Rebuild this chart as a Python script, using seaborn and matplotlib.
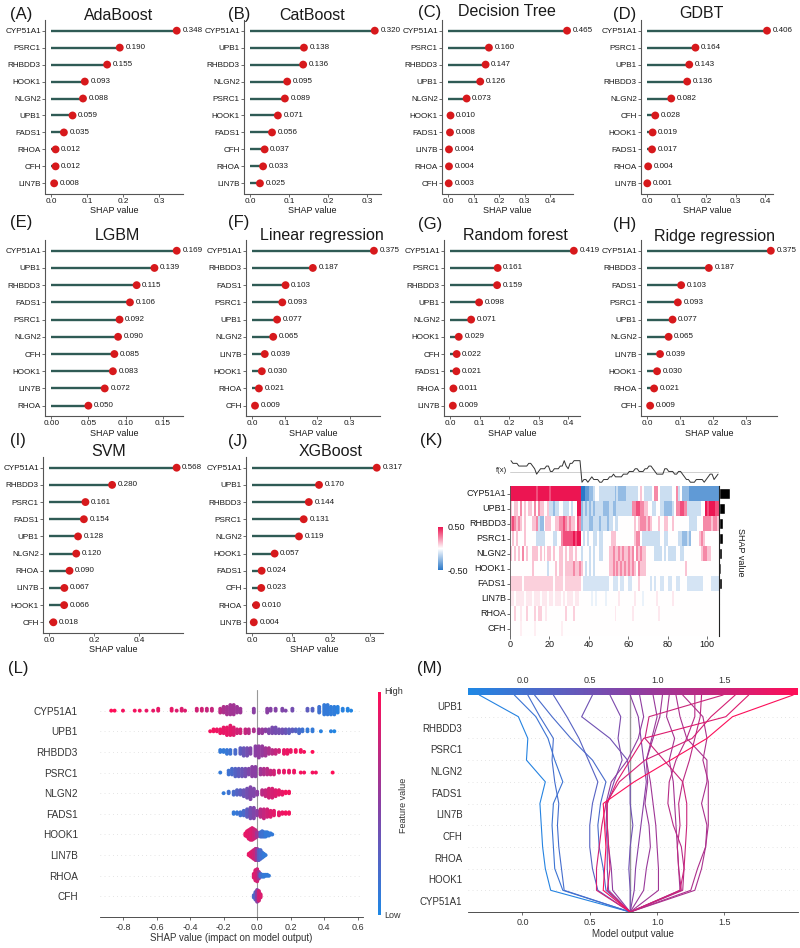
import numpy as np
import pandas as pd
import matplotlib
matplotlib.use("Agg")
import matplotlib.pyplot as plt
from matplotlib.colors import LinearSegmentedColormap, Normalize
from matplotlib.cm import ScalarMappable
import seaborn as sns

# ---------------- (A)-(J) mean |SHAP| per model ----------------
ada_genes = ["CYP51A1", "PSRC1", "RHBDD3", "HOOK1", "NLGN2", "UPB1", "FADS1", "RHOA", "CFH", "LIN7B"]
ada_vals = [0.348, 0.190, 0.155, 0.093, 0.088, 0.059, 0.035, 0.012, 0.012, 0.008]
cat_genes = ["CYP51A1", "UPB1", "RHBDD3", "NLGN2", "PSRC1", "HOOK1", "FADS1", "CFH", "RHOA", "LIN7B"]
cat_vals = [0.320, 0.138, 0.136, 0.095, 0.089, 0.071, 0.056, 0.037, 0.033, 0.025]
dt_genes = ["CYP51A1", "PSRC1", "RHBDD3", "UPB1", "NLGN2", "HOOK1", "FADS1", "LIN7B", "RHOA", "CFH"]
dt_vals = [0.465, 0.160, 0.147, 0.126, 0.073, 0.010, 0.008, 0.004, 0.004, 0.003]
gdbt_genes = ["CYP51A1", "PSRC1", "UPB1", "RHBDD3", "NLGN2", "CFH", "HOOK1", "FADS1", "RHOA", "LIN7B"]
gdbt_vals = [0.406, 0.164, 0.143, 0.136, 0.082, 0.028, 0.019, 0.017, 0.004, 0.001]
lgbm_genes = ["CYP51A1", "UPB1", "RHBDD3", "FADS1", "PSRC1", "NLGN2", "CFH", "HOOK1", "LIN7B", "RHOA"]
lgbm_vals = [0.169, 0.139, 0.115, 0.106, 0.092, 0.090, 0.085, 0.083, 0.072, 0.050]
lin_genes = ["CYP51A1", "RHBDD3", "FADS1", "PSRC1", "UPB1", "NLGN2", "LIN7B", "HOOK1", "RHOA", "CFH"]
lin_vals = [0.375, 0.187, 0.103, 0.093, 0.077, 0.065, 0.039, 0.030, 0.021, 0.009]
rf_genes = ["CYP51A1", "PSRC1", "RHBDD3", "UPB1", "NLGN2", "HOOK1", "CFH", "FADS1", "RHOA", "LIN7B"]
rf_vals = [0.419, 0.161, 0.159, 0.098, 0.071, 0.029, 0.022, 0.021, 0.011, 0.009]
ridge_genes = ["CYP51A1", "RHBDD3", "FADS1", "PSRC1", "UPB1", "NLGN2", "LIN7B", "HOOK1", "RHOA", "CFH"]
ridge_vals = [0.375, 0.187, 0.103, 0.093, 0.077, 0.065, 0.039, 0.030, 0.021, 0.009]
svm_genes = ["CYP51A1", "RHBDD3", "PSRC1", "FADS1", "UPB1", "NLGN2", "RHOA", "LIN7B", "HOOK1", "CFH"]
svm_vals = [0.568, 0.280, 0.161, 0.154, 0.128, 0.120, 0.090, 0.067, 0.066, 0.018]
xgb_genes = ["CYP51A1", "UPB1", "RHBDD3", "PSRC1", "NLGN2", "HOOK1", "FADS1", "CFH", "RHOA", "LIN7B"]
xgb_vals = [0.317, 0.170, 0.144, 0.131, 0.119, 0.057, 0.024, 0.023, 0.010, 0.004]

# ---------------- (K) SHAP heatmap ----------------
# one digit per instance: 0 = -0.5 ... 4 = 0 ... 8 = +0.5 (times the row scale)
heat_genes = ["CYP51A1", "UPB1", "RHBDD3", "PSRC1", "NLGN2", "HOOK1", "FADS1", "LIN7B", "RHOA", "CFH"]
heat_rows = [
    "8888888888 8887888888 7888888888 8888880011 2234433333 3332322223 3333345433 3346643333 3344634222 2111111111 111111",
    "5455464545 5464655445 3323344333 4344882323 2323333222 3322333333 3366776655 4433443322 2234667766 3333333448 788877",
    "6765654544 4556322455 5445566765 6554762333 2233323332 3343344444 4445456665 6544454455 4454444444 4333344466 665665",
    "4545444544 4443333344 4433446777 7787884343 4433433444 4555444444 4445664333 3333334433 4444433222 3244445654 444444",
    "5454546454 4555454545 5454455454 5545443444 3434433444 5565565655 6564656554 4443333434 3333443344 4444444566 554444",
    "4444444444 4544444443 4445455455 5565565434 3434444444 5565656565 6565465554 4444444444 4444444445 4444444444 444444",
    "5555554555 5555555555 5545555455 5555554333 3333333333 4433343344 3344454444 4343443344 3344334444 3333333344 443333",
    "5545555455 5455545554 5545554545 5545544444 4343444434 4444454444 4445444344 4444544444 4454444444 4444444444 444444",
    "4464454464 4464664454 4444444464 4464444444 4444444444 4445444444 4454444444 4444454444 4444444444 4444444444 444444",
    "4444454444 4454444444 4444445444 4444444444 4444444444 4444444444 4444444444 4444444444 4444444444 4444444444 444444",
]
heat_scale = [1, 1, 1, 1, 1, 1, 0.8, 0.4, 0.4, 0.3]
fx_levels = "9888777778 8764566677 5566677976 8899991221 2322211222 3343333444 5556655566 7765444466 5554455432 2111222212 344234"

# ---------------- (L) beeswarm: (SHAP value, count, feature value 0-1) ----------------
bee_genes = ["CYP51A1", "UPB1", "RHBDD3", "PSRC1", "NLGN2", "FADS1", "HOOK1", "LIN7B", "RHOA", "CFH"]
swarm_cyp51a1 = [(-0.87, 1, 1.0), (-0.85, 1, 1.0), (-0.80, 1, .95), (-0.73, 1, .95), (-0.70, 1, .95), (-0.66, 1, .9),
                 (-0.62, 1, .9), (-0.59, 2, .9), (-0.51, 2, .9), (-0.48, 1, .85), (-0.45, 2, .85), (-0.43, 1, .85),
                 (-0.36, 2, .8), (-0.33, 2, .8), (-0.30, 2, .75), (-0.27, 2, .75), (-0.22, 3, .7), (-0.20, 4, .65),
                 (-0.18, 5, .62), (-0.16, 6, .6), (-0.14, 6, .6), (-0.12, 4, .58), (-0.10, 3, .58), (-0.02, 3, .5),
                 (0.06, 3, .5), (0.08, 2, .48), (0.11, 2, .48), (0.15, 2, .45), (0.17, 1, .45), (0.21, 2, .4),
                 (0.30, 2, .3), (0.33, 2, .25), (0.37, 4, .15), (0.40, 6, .1), (0.42, 6, .1), (0.44, 5, .08),
                 (0.46, 5, .08), (0.48, 4, .05), (0.51, 2, .05), (0.54, 2, .03), (0.56, 1, .02)]
swarm_upb1 = [(-0.28, 1, .95), (-0.26, 2, .95), (-0.24, 2, .92), (-0.22, 3, .92), (-0.20, 4, .9), (-0.18, 5, .9),
              (-0.16, 6, .88), (-0.14, 5, .85), (-0.12, 3, .8), (-0.10, 3, .8), (-0.07, 3, .75), (-0.05, 3, .7),
              (-0.02, 2, .65), (0.01, 3, .55), (0.03, 3, .55), (0.05, 2, .5), (0.07, 3, .45), (0.09, 4, .42),
              (0.11, 4, .4), (0.13, 3, .4), (0.15, 3, .38), (0.17, 3, .35), (0.19, 3, .3), (0.21, 2, .3),
              (0.23, 2, .25), (0.25, 3, .2), (0.27, 2, .15), (0.30, 2, .1), (0.33, 2, .1), (0.38, 1, .05),
              (0.44, 1, .05), (0.46, 1, .02)]
swarm_rhbdd3 = [(-0.22, 2, .1), (-0.20, 2, .1), (-0.18, 3, .12), (-0.16, 3, .15), (-0.13, 3, .2), (-0.10, 4, .3),
                (-0.08, 5, .35), (-0.06, 5, .4), (-0.04, 4, .45), (-0.01, 6, .5), (0.01, 7, .52), (0.03, 6, .55),
                (0.05, 5, .6), (0.07, 4, .65), (0.09, 3, .7), (0.11, 3, .75), (0.13, 2, .8), (0.16, 3, .9),
                (0.18, 3, .92), (0.20, 2, .92), (0.23, 2, .95), (0.26, 2, .95), (0.28, 1, .95), (0.33, 1, 1.0)]
swarm_psrc1 = [(-0.22, 1, .1), (-0.17, 3, .15), (-0.15, 4, .2), (-0.13, 5, .25), (-0.11, 5, .3), (-0.09, 5, .35),
               (-0.07, 5, .4), (-0.05, 4, .45), (-0.03, 6, .5), (-0.01, 6, .5), (0.02, 4, .6), (0.04, 4, .65),
               (0.06, 4, .7), (0.08, 3, .75), (0.10, 3, .8), (0.13, 2, .85), (0.16, 2, .9), (0.19, 2, .9),
               (0.22, 2, .92), (0.26, 1, .95), (0.28, 1, .95), (0.33, 1, .95), (0.35, 1, .95), (0.45, 1, 1.0)]
swarm_nlgn2 = [(-0.20, 1, .1), (-0.17, 2, .15), (-0.14, 3, .2), (-0.12, 4, .25), (-0.10, 4, .3), (-0.08, 5, .35),
               (-0.06, 7, .4), (-0.04, 9, .45), (-0.02, 6, .45), (0.00, 3, .5), (0.03, 4, .7), (0.05, 5, .75),
               (0.07, 7, .8), (0.09, 7, .82), (0.11, 5, .85), (0.13, 4, .88), (0.15, 3, .9), (0.17, 2, .95),
               (0.19, 2, .95)]
swarm_fads1 = [(-0.14, 2, .1), (-0.12, 2, .12), (-0.10, 3, .15), (-0.08, 4, .2), (-0.06, 6, .3), (-0.04, 8, .4),
               (-0.02, 8, .45), (0.00, 4, .5), (0.02, 6, .7), (0.04, 7, .75), (0.06, 6, .8), (0.08, 5, .85),
               (0.10, 4, .88), (0.13, 3, .9), (0.15, 2, .92), (0.17, 2, .95), (0.19, 2, .95)]
swarm_hook1 = [(-0.07, 3, .9), (-0.06, 6, .9), (-0.05, 9, .88), (-0.04, 11, .85), (-0.03, 12, .85), (-0.02, 10, .8),
               (-0.01, 8, .75), (0.00, 5, .6), (0.02, 5, .2), (0.03, 6, .15), (0.04, 5, .15), (0.05, 5, .1),
               (0.06, 4, .1), (0.07, 3, .1), (0.08, 2, .1), (0.09, 1, .1)]
swarm_lin7b = [(-0.05, 2, .9), (-0.04, 4, .9), (-0.03, 6, .85), (-0.02, 8, .8), (-0.01, 10, .75), (0.00, 10, .55),
               (0.01, 9, .3), (0.02, 8, .2), (0.03, 5, .15), (0.04, 3, .1), (0.05, 1, .1)]
swarm_rhoa = [(-0.02, 5, .85), (-0.01, 12, .85), (0.00, 14, .8), (0.01, 8, .6), (0.02, 4, .2), (0.03, 3, .15),
              (0.04, 3, .1), (0.05, 2, .1), (0.06, 2, .1), (0.07, 1, .1)]
swarm_cfh = [(-0.02, 3, .2), (-0.01, 8, .25), (0.00, 12, .5), (0.01, 10, .8), (0.02, 4, .85)]

# ---------------- (M) decision plot: model output after each feature ----------------
decision_genes = ["CYP51A1", "HOOK1", "RHOA", "CFH", "LIN7B", "FADS1", "NLGN2", "PSRC1", "RHBDD3", "UPB1"]
base_value = 0.80
decision_lines = [
    [0.21, 0.17, 0.15, 0.14, 0.13, 0.17, 0.03, 0.04, -0.03, -0.32],
    [0.30, 0.24, 0.23, 0.22, 0.23, 0.30, 0.24, 0.19, 0.10, -0.06],
    [0.31, 0.29, 0.27, 0.26, 0.27, 0.24, 0.22, 0.23, 0.13, 0.04],
    [0.62, 0.60, 0.57, 0.56, 0.58, 0.62, 0.52, 0.36, 0.22, 0.09],
    [0.56, 0.52, 0.50, 0.50, 0.52, 0.56, 0.49, 0.42, 0.33, 0.23],
    [0.80, 0.79, 0.80, 0.82, 0.80, 0.80, 0.78, 0.65, 0.44, 0.52],
    [0.64, 0.63, 0.63, 0.62, 0.63, 0.68, 0.74, 0.71, 0.73, 0.65],
    [0.83, 0.84, 0.86, 0.88, 0.90, 0.92, 0.90, 0.88, 0.86, 0.80],
    [0.67, 0.66, 0.64, 0.63, 0.62, 0.66, 0.78, 0.86, 0.90, 0.87],
    [0.90, 0.92, 0.95, 0.94, 0.91, 0.93, 0.92, 0.96, 1.00, 0.97],
    [1.01, 1.01, 1.00, 0.99, 0.97, 0.95, 0.92, 0.97, 1.02, 1.04],
    [1.17, 1.16, 1.15, 1.14, 1.13, 1.12, 1.09, 1.13, 1.07, 1.09],
    [1.28, 1.33, 1.36, 1.37, 1.33, 1.37, 1.37, 1.22, 1.17, 1.14],
    [1.25, 1.30, 1.36, 1.38, 1.38, 1.38, 1.34, 1.37, 1.34, 1.19],
    [1.19, 1.20, 1.18, 1.12, 1.08, 1.09, 1.14, 1.22, 1.28, 1.28],
    [1.18, 1.16, 1.15, 1.17, 1.16, 1.19, 1.24, 1.28, 1.32, 1.33],
    [1.17, 1.20, 1.21, 1.22, 1.22, 1.19, 1.05, 0.91, 0.94, 1.49],
    [0.55, 0.55, 0.57, 0.59, 0.62, 0.72, 0.91, 1.26, 1.40, 1.58],
    [0.63, 0.65, 0.64, 0.63, 0.63, 0.70, 0.80, 0.90, 1.51, 1.68],
    [0.60, 0.61, 0.62, 0.61, 0.60, 0.83, 1.10, 1.37, 1.56, 2.01],
]

# ---------------- style ----------------
sns.set_theme(style="white")
plt.rcParams["font.family"] = ["Liberation Sans", "DejaVu Sans"]

W, H = 800, 948
fig = plt.figure(figsize=(8, 9.48), dpi=100)

STEM = "#2f5b55"
DOT = "#d7191c"
red_blue = LinearSegmentedColormap.from_list("rb", ["#1E88E5", "#8a3fa3", "#FF0D57"])
red_white_blue = LinearSegmentedColormap.from_list("rwb", ["#2b78c8", "#ffffff", "#ec1552"])


def box(l, t, r, b):
    return fig.add_axes([l / W, 1 - b / H, (r - l) / W, (b - t) / H])


def ftext(x, y, s, **kw):
    fig.text(x / W, 1 - y / H, s, **kw)


def lollipop(ax, genes, vals):
    df = pd.DataFrame({"gene": genes, "shap": vals, "pos": np.arange(len(genes))})
    ax.hlines(df["pos"], 0, df["shap"], color=STEM, lw=1.7, zorder=1)
    sns.scatterplot(data=df, x="shap", y="pos", color=DOT, s=32, edgecolor="none",
                    zorder=2, legend=False, ax=ax, clip_on=False)
    for p, v in zip(df["pos"], df["shap"]):
        ax.annotate(f"{v:.3f}", (v, p), xytext=(4, 0), textcoords="offset points",
                    va="center", ha="left", fontsize=5.8, color="#1a1a1a", annotation_clip=False)
    m = max(vals)
    lo, hi = -0.05 * m, 1.05 * m
    ax.set_xlim(lo, hi)
    ax.set_ylim(len(genes) - 0.4, -0.6)
    raw = (hi - lo) / 6
    step = [s for s in (0.05, 0.1, 0.2, 0.5) if s >= raw][0]
    ticks = np.arange(0, hi, step)
    ax.set_xticks(ticks)
    dec = 2 if step < 0.1 else 1
    ax.set_xticklabels([f"{t:.{dec}f}" for t in ticks])
    ax.set_yticks(df["pos"])
    ax.set_yticklabels(genes)
    ax.set_xlabel("SHAP value", fontsize=6.5, labelpad=1, color="#1a1a1a")
    ax.set_ylabel("")
    for s in ("top", "right"):
        ax.spines[s].set_visible(False)
    for s in ("left", "bottom"):
        ax.spines[s].set_color("#555555")
        ax.spines[s].set_linewidth(0.8)
    ax.tick_params(axis="both", labelsize=5.9, length=2, width=0.6, colors="#555555",
                   labelcolor="#1a1a1a", pad=1, left=True, bottom=True)


panels = [
    ("(A)", "AdaBoost", ada_genes, ada_vals, (45, 20.5, 183, 193.5), (10, 14), (119, 15)),
    ("(B)", "CatBoost", cat_genes, cat_vals, (244, 20.5, 381, 193.5), (228, 14), (312, 15)),
    ("(C)", "Decision Tree", dt_genes, dt_vals, (442, 20.5, 573, 193.5), (418, 12), (507, 12)),
    ("(D)", "GDBT", gdbt_genes, gdbt_vals, (641, 20.5, 773, 193.5), (613, 14), (701, 14)),
    ("(E)", "LGBM", lgbm_genes, lgbm_vals, (45, 240.4, 183, 416), (10, 222), (117, 235.5)),
    ("(F)", "Linear regression", lin_genes, lin_vals, (246, 240.4, 380, 416), (228, 222), (322, 235.5)),
    ("(G)", "Random forest", rf_genes, rf_vals, (444, 240.4, 580, 416), (418, 224), (515, 235)),
    ("(H)", "Ridge regression", ridge_genes, ridge_vals, (641, 240.4, 777, 416), (613, 224), (715, 236)),
    ("(I)", "SVM", svm_genes, svm_vals, (43, 457.4, 183, 632.6), (10, 440), (109, 451.5)),
    ("(J)", "XGBoost", xgb_genes, xgb_vals, (246, 457.4, 383, 632.6), (228, 441), (331, 452)),
]

for letter, title, genes, vals, pos, lpos, tpos in panels:
    ax = box(*pos)
    lollipop(ax, genes, vals)
    ftext(lpos[0], lpos[1], letter, fontsize=12, va="center", ha="left", color="#1a1a1a")
    ftext(tpos[0], tpos[1], title, fontsize=11.5, va="center", ha="center", color="#1a1a1a")

# ---------------- (K) heatmap ----------------
digits = [np.array([int(c) for c in r.replace(" ", "")], float) for r in heat_rows]
heat = pd.DataFrame([(d - 4) / 8 * s for d, s in zip(digits, heat_scale)], index=heat_genes)
n_inst = heat.shape[1]

ax_h = box(510, 486, 719, 636)
cax_k = box(438, 527, 443, 570)
sns.heatmap(heat, ax=ax_h, cmap=red_white_blue, vmin=-0.5, vmax=0.5, cbar_ax=cax_k,
            xticklabels=False, yticklabels=True)
ax_h.set_yticks(np.arange(len(heat_genes)) + 0.5)
ax_h.set_yticklabels(heat_genes, rotation=0)
ax_h.set_xticks([0, 20, 40, 60, 80, 100])
ax_h.set_xticklabels(["0", "20", "40", "60", "80", "100"])
ax_h.tick_params(axis="both", labelsize=6.5, length=2, width=0.6, colors="#555555",
                 labelcolor="#1a1a1a", pad=1, left=True, bottom=True)
ax_h.spines["left"].set_visible(True)
ax_h.spines["left"].set_color("#555555")
ax_h.spines["left"].set_linewidth(0.6)
cb = ax_h.collections[0].colorbar
cb.set_ticks([0.5, -0.5])
cb.set_ticklabels(["0.50", "-0.50"])
cb.outline.set_visible(False)
cax_k.tick_params(labelsize=6.5, length=0, pad=3, labelcolor="#1a1a1a")

ax_f = box(510, 455, 719, 486)
fx = np.array([int(c) for c in fx_levels.replace(" ", "")], float)
sns.lineplot(x=np.arange(n_inst) + 0.5, y=fx, color="#333333", lw=0.7, ax=ax_f)
ax_f.axhline(fx.mean(), color="#c8c8c8", lw=0.6, zorder=0)
ax_f.set_xlim(0, n_inst)
ax_f.set_ylim(-0.4, 11.1)
ax_f.axis("off")
ftext(507, 471, "f(x)", fontsize=5.5, ha="right", va="center", color="#1a1a1a")

ax_b = box(719, 486, 736, 636)
mean_abs = heat.abs().mean(axis=1)
ax_b.barh(np.arange(len(heat_genes)), mean_abs.values, height=0.72, color="#000000")
ax_b.set_ylim(len(heat_genes) - 0.5, -0.5)
ax_b.set_xlim(0, mean_abs.max() * 1.5)
ax_b.set_xticks([])
ax_b.set_yticks([])
for s in ("top", "right", "bottom"):
    ax_b.spines[s].set_visible(False)
ax_b.spines["left"].set_color("#222222")
ax_b.spines["left"].set_linewidth(0.8)
ftext(741, 552, "SHAP value", fontsize=6.5, rotation=270, ha="center", va="center", color="#1a1a1a")
ftext(420, 440, "(K)", fontsize=12, va="center", ha="left", color="#1a1a1a")

# ---------------- (L) beeswarm ----------------
def swarm_offsets(values, row_height=0.4, nbins=100):
    v = np.asarray(values, float)
    quant = np.round(nbins * (v - v.min()) / (v.max() - v.min() + 1e-8))
    order = np.argsort(quant, kind="stable")
    ys = np.zeros(len(v))
    layer, last = 0, None
    for i in order:
        if quant[i] != last:
            layer = 0
        ys[i] = np.ceil(layer / 2) * ((layer % 2) * 2 - 1)
        layer += 1
        last = quant[i]
    return ys * 0.9 * (row_height / np.max(ys + 1))


swarms = [swarm_cyp51a1, swarm_upb1, swarm_rhbdd3, swarm_psrc1, swarm_nlgn2,
          swarm_fads1, swarm_hook1, swarm_lin7b, swarm_rhoa, swarm_cfh]
rows = []
for k, (gene, sw) in enumerate(zip(bee_genes, swarms)):
    vals = np.repeat([c[0] for c in sw], [c[1] for c in sw])
    levels = np.repeat([c[2] for c in sw], [c[1] for c in sw])
    ys = swarm_offsets(vals)
    row_y = len(bee_genes) - 1 - k
    rows.append(pd.DataFrame({"gene": gene, "shap": vals, "level": levels, "y": row_y + ys}))
bee = pd.concat(rows, ignore_index=True)

ax_l = box(100, 690, 363, 917)
for k in range(len(bee_genes)):
    ax_l.axhline(k, color="#cccccc", lw=0.5, dashes=(1, 5), zorder=0)
ax_l.axvline(0, color="#999999", lw=0.8, zorder=1)
sns.scatterplot(data=bee, x="shap", y="y", hue="level", palette=red_blue, hue_norm=(0, 1),
                s=8, linewidth=0, legend=False, ax=ax_l, zorder=3)
ax_l.set_xlim(-0.937, 0.631)
ax_l.set_ylim(-1, len(bee_genes))
ax_l.set_yticks(np.arange(len(bee_genes)))
ax_l.set_yticklabels(bee_genes[::-1])
ax_l.set_xticks([-0.8, -0.6, -0.4, -0.2, 0.0, 0.2, 0.4, 0.6])
ax_l.set_xticklabels(["-0.8", "-0.6", "-0.4", "-0.2", "0.0", "0.2", "0.4", "0.6"])
ax_l.set_xlabel("SHAP value (impact on model output)", fontsize=7, labelpad=1, color="#333333")
ax_l.set_ylabel("")
for s in ("top", "right", "left"):
    ax_l.spines[s].set_visible(False)
ax_l.spines["bottom"].set_color("#333333")
ax_l.spines["bottom"].set_linewidth(0.6)
ax_l.tick_params(axis="x", labelsize=6.5, length=2, width=0.5, colors="#333333", pad=2, bottom=True)
ax_l.tick_params(axis="y", labelsize=7.2, length=0, colors="#333333", pad=16)

cax_l = box(378, 692, 381, 915)
cbl = fig.colorbar(ScalarMappable(Normalize(0, 1), red_blue), cax=cax_l)
cbl.outline.set_visible(False)
cbl.set_ticks([])
ftext(384, 692, "High", fontsize=6.5, ha="left", va="center", color="#333333")
ftext(384, 915, "Low", fontsize=6.5, ha="left", va="center", color="#333333")
ftext(403, 805, "Feature value", fontsize=6.5, rotation=90, ha="center", va="center", color="#333333")
ftext(8, 668, "(L)", fontsize=12, va="center", ha="left", color="#1a1a1a")

# ---------------- (M) decision plot ----------------
xlim_m = (-0.404, 2.046)
recs = []
for j, path in enumerate(decision_lines):
    outs = [base_value] + path
    for lvl, o in enumerate(outs):
        recs.append({"sample": j, "level": lvl, "out": o, "final": path[-1]})
dec = pd.DataFrame(recs)

ax_m = box(468, 695, 798, 912)
for k in range(1, len(decision_genes)):
    ax_m.axhline(k, color="#cccccc", lw=0.5, dashes=(1, 5), zorder=0)
ax_m.axvline(base_value, color="#999999", lw=1, zorder=1)
sns.lineplot(data=dec, x="out", y="level", units="sample", estimator=None, sort=False,
             hue="final", palette=red_blue, hue_norm=Normalize(*xlim_m), lw=0.8,
             legend=False, ax=ax_m, zorder=2)
ax_m.set_xlim(*xlim_m)
ax_m.set_ylim(0, len(decision_genes))
ax_m.set_yticks(np.arange(len(decision_genes)) + 0.5)
ax_m.set_yticklabels(decision_genes)
ax_m.set_xticks([0.0, 0.5, 1.0, 1.5])
ax_m.set_xticklabels(["0.0", "0.5", "1.0", "1.5"])
ax_m.set_xlabel("Model output value", fontsize=7, labelpad=2, color="#333333")
ax_m.set_ylabel("")
for s in ("top", "right", "left"):
    ax_m.spines[s].set_visible(False)
ax_m.spines["bottom"].set_color("#333333")
ax_m.spines["bottom"].set_linewidth(0.6)
ax_m.tick_params(axis="x", labelsize=6.5, length=2, width=0.5, colors="#333333", pad=2, bottom=True)
ax_m.tick_params(axis="y", labelsize=7, length=0, colors="#333333", pad=4)

cax_m = box(468, 688, 798, 695)
cbm = fig.colorbar(ScalarMappable(Normalize(*xlim_m), red_blue), cax=cax_m, orientation="horizontal")
cbm.outline.set_visible(False)
cbm.set_ticks([0.0, 0.5, 1.0, 1.5])
cbm.set_ticklabels(["0.0", "0.5", "1.0", "1.5"])
cax_m.xaxis.set_ticks_position("top")
cax_m.tick_params(labelsize=6.5, length=0, pad=2, labelcolor="#333333")
ftext(417, 668, "(M)", fontsize=12, va="center", ha="left", color="#1a1a1a")

fig.savefig("out.png", dpi=100)
